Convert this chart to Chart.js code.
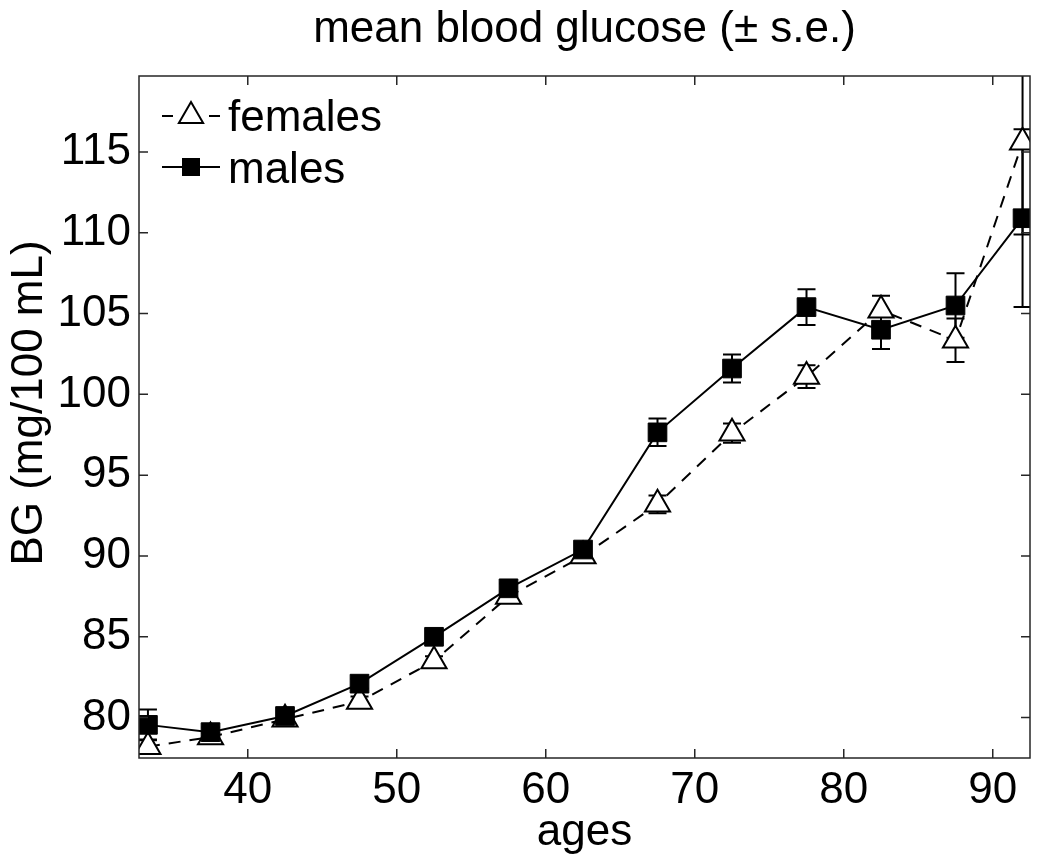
<!DOCTYPE html>
<html><head><meta charset="utf-8">
<script src="https://cdn.jsdelivr.net/npm/chart.js@4"></script>
<style>html,body{margin:0;padding:0;background:#fff}#wrap{width:1050px;height:862px}</style>
</head><body><div id="wrap"><canvas id="c" width="1050" height="862"></canvas></div>
<script>
// ---- data ----
const ages        = [33.3, 37.5, 42.5, 47.5, 52.5, 57.5, 62.5, 67.5, 72.5, 77.5, 82.5, 87.5, 92.0];
const femalesMean = [78.2, 78.8, 79.9, 81.0, 83.5, 87.5, 90.0, 93.2, 97.6, 101.1, 105.2, 103.35, 115.6];
const femalesSE   = [0.45, 0.25, 0.25, 0.3, 0.3, 0.3, 0.25, 0.55, 0.6, 0.7, 0.9, 1.35, 5.7];
const malesMean   = [79.55, 79.1, 80.1, 82.1, 85.0, 88.0, 90.4, 97.65, 101.6, 105.4, 104.0, 105.5, 110.9];
const malesSE     = [0.95, 0.3, 0.5, 0.3, 0.3, 0.3, 0.3, 0.85, 0.87, 1.1, 1.2, 2.0, 5.5];
const xTicks = [40, 50, 60, 70, 80, 90];
const yTicks = [80, 85, 90, 95, 100, 105, 110, 115];
const seriesNames = ['females', 'males'];
const titleText = 'mean blood glucose (\u00B1 s.e.)';
const xTitle = 'ages';
const yTitle = 'BG (mg/100 mL)';

const FONT = '"Liberation Sans", Arial, Helvetica, sans-serif';
const FS = 44;

function pts(means, ses) { return ages.map((a, i) => ({ x: a, y: means[i], se: ses[i] })); }

const matlabPlugin = {
  id: 'matlab',
  beforeDatasetsDraw(chart) {
    const { ctx, chartArea: a, scales: { x, y } } = chart;
    ctx.save();
    ctx.beginPath(); ctx.rect(a.left, a.top, a.right - a.left, a.bottom - a.top); ctx.clip();
    ctx.strokeStyle = '#000'; ctx.lineWidth = 2; ctx.setLineDash([]);
    chart.data.datasets.forEach(ds => {
      ds.data.forEach(p => {
        const px = x.getPixelForValue(p.x);
        const t = y.getPixelForValue(p.y + p.se), b = y.getPixelForValue(p.y - p.se);
        ctx.beginPath();
        ctx.moveTo(px, t); ctx.lineTo(px, b);
        ctx.moveTo(px - 9, t); ctx.lineTo(px + 9, t);
        ctx.moveTo(px - 9, b); ctx.lineTo(px + 9, b);
        ctx.stroke();
      });
    });
    ctx.restore();
  },
  afterDraw(chart) {
    const { ctx, chartArea: a, scales: { x, y } } = chart;
    ctx.save();
    // box + inner ticks
    ctx.strokeStyle = '#262626'; ctx.lineWidth = 1.5; ctx.setLineDash([]);
    ctx.strokeRect(a.left, a.top, a.right - a.left, a.bottom - a.top);
    ctx.beginPath();
    xTicks.forEach(v => {
      const px = x.getPixelForValue(v);
      ctx.moveTo(px, a.bottom); ctx.lineTo(px, a.bottom - 9);
      ctx.moveTo(px, a.top); ctx.lineTo(px, a.top + 9);
    });
    yTicks.forEach(v => {
      const py = y.getPixelForValue(v);
      ctx.moveTo(a.left, py); ctx.lineTo(a.left + 9, py);
      ctx.moveTo(a.right, py); ctx.lineTo(a.right - 9, py);
    });
    ctx.stroke();
    // title
    ctx.fillStyle = '#000';
    ctx.font = FS + 'px ' + FONT;
    ctx.textAlign = 'center'; ctx.textBaseline = 'alphabetic';
    ctx.fillText(titleText, (a.left + a.right) / 2, 42);
    // y-axis title
    ctx.save();
    ctx.translate(42, 403);
    ctx.rotate(-Math.PI / 2);
    ctx.textAlign = 'center'; ctx.textBaseline = 'alphabetic';
    ctx.fillText(yTitle, 0, 0);
    ctx.restore();
    // legend
    const L = a.left, T = a.top;
    ctx.strokeStyle = '#000'; ctx.lineWidth = 2;
    ctx.beginPath();
    ctx.moveTo(L + 23, T + 40); ctx.lineTo(L + 34, T + 40);
    ctx.moveTo(L + 70, T + 40); ctx.lineTo(L + 81, T + 40);
    ctx.stroke();
    const r = 14, cx = L + 52, cy = T + 40;
    ctx.beginPath();
    ctx.moveTo(cx, cy - r);
    ctx.lineTo(cx + r * Math.sin(2 * Math.PI / 3), cy - r * Math.cos(2 * Math.PI / 3));
    ctx.lineTo(cx + r * Math.sin(4 * Math.PI / 3), cy - r * Math.cos(4 * Math.PI / 3));
    ctx.closePath();
    ctx.fillStyle = '#fff'; ctx.fill(); ctx.stroke();
    ctx.beginPath(); ctx.moveTo(L + 23, T + 91); ctx.lineTo(L + 81, T + 91); ctx.stroke();
    ctx.fillStyle = '#000';
    ctx.fillRect(L + 43, T + 82, 18, 18);
    ctx.font = FS + 'px ' + FONT;
    ctx.textAlign = 'left'; ctx.textBaseline = 'alphabetic';
    ctx.fillText(seriesNames[0], L + 89, T + 55);
    ctx.fillText(seriesNames[1], L + 89, T + 107);
    ctx.restore();
  }
};

new Chart(document.getElementById('c'), {
  type: 'scatter',
  data: {
    datasets: [
      {
        label: seriesNames[0], data: pts(femalesMean, femalesSE), order: 1,
        showLine: true, borderColor: '#000', borderWidth: 2, borderDash: [12, 9],
        pointStyle: 'triangle', pointRadius: 14.5, pointHoverRadius: 14.5,
        pointBackgroundColor: '#fff', pointBorderColor: '#000', pointBorderWidth: 2,
        tension: 0
      },
      {
        label: seriesNames[1], data: pts(malesMean, malesSE), order: 0,
        showLine: true, borderColor: '#000', borderWidth: 2,
        pointStyle: 'rect', pointRadius: 13.2, pointHoverRadius: 13.2,
        pointBackgroundColor: '#000', pointBorderColor: '#000', pointBorderWidth: 1,
        tension: 0
      }
    ]
  },
  options: {
    responsive: false, animation: false, devicePixelRatio: 1,
    layout: { padding: { top: 76, right: 20, left: 0, bottom: 0 } },
    plugins: { legend: { display: false }, tooltip: { enabled: false }, title: { display: false } },
    scales: {
      x: {
        type: 'linear', min: 32.7, max: 92.5,
        grid: { display: false }, border: { display: false },
        afterBuildTicks(s) { s.ticks = xTicks.map(v => ({ value: v })); },
        afterFit(s) { s.height = 104; },
        ticks: { color: '#000', font: { family: FONT, size: FS }, padding: -2, maxRotation: 0, autoSkip: false },
        title: { display: true, text: xTitle, color: '#000', font: { family: FONT, size: FS }, padding: { top: 0, bottom: 3 } }
      },
      y: {
        type: 'linear', min: 77.5, max: 119.7,
        grid: { display: false }, border: { display: false },
        afterBuildTicks(s) { s.ticks = yTicks.map(v => ({ value: v })); },
        afterFit(s) { s.width = 139; },
        ticks: { color: '#000', font: { family: FONT, size: FS }, padding: 0, autoSkip: false },
        title: { display: false, text: yTitle }
      }
    }
  },
  plugins: [matlabPlugin]
});
</script></body></html>
